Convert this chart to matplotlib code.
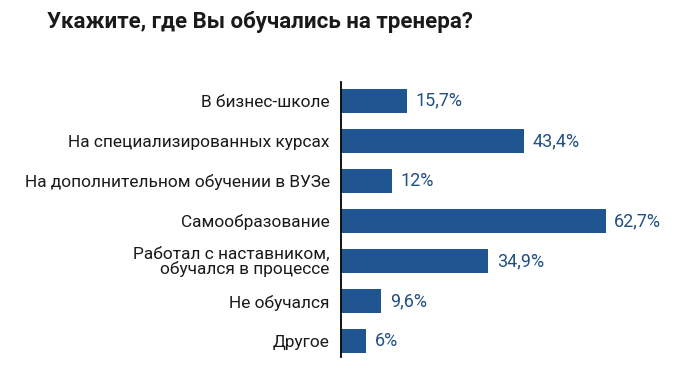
import matplotlib.pyplot as plt

# data
categories = ["В бизнес-школе",
              "На специализированных курсах",
              "На дополнительном обучении в ВУЗе",
              "Самообразование",
              "Работал с наставником,\nобучался в процессе",
              "Не обучался",
              "Другое"]
values = [15.7, 43.4, 12, 62.7, 34.9, 9.6, 6]
value_labels = ["15,7%", "43,4%", "12%", "62,7%", "34,9%", "9,6%", "6%"]

bar_color = "#1f5591"
text_blue = "#234f85"

plt.rcParams['font.family'] = ['Roboto', 'DejaVu Sans']

fig = plt.figure(figsize=(7, 3.86), dpi=100)
ax = fig.add_axes([0.487, 0.075, 0.483, 0.713])

y = list(range(len(categories)))
ax.barh(y, values, height=0.6, color=bar_color)

for i, v in enumerate(values):
    ax.text(v + 2.0, i, value_labels[i], va='center', ha='left',
            fontsize=13, color=text_blue)

ax.set_yticks(y)
ax.set_yticklabels(categories, fontsize=12.4, color="#1a1a1a", linespacing=0.95)
ax.tick_params(axis='y', length=0, pad=8)
ax.set_xticks([])
ax.set_xlim(0, 80)
ax.set_ylim(6.4, -0.475)

for s in ['top', 'right', 'bottom']:
    ax.spines[s].set_visible(False)
ax.spines['left'].set_linewidth(1.3)
ax.spines['left'].set_color('black')

fig.text(0.067, 0.943, "Укажите, где Вы обучались на тренера?",
         fontsize=16, fontweight='bold', color="#1a1a1a",
         va='center', ha='left')

fig.savefig("out.png", dpi=100)
